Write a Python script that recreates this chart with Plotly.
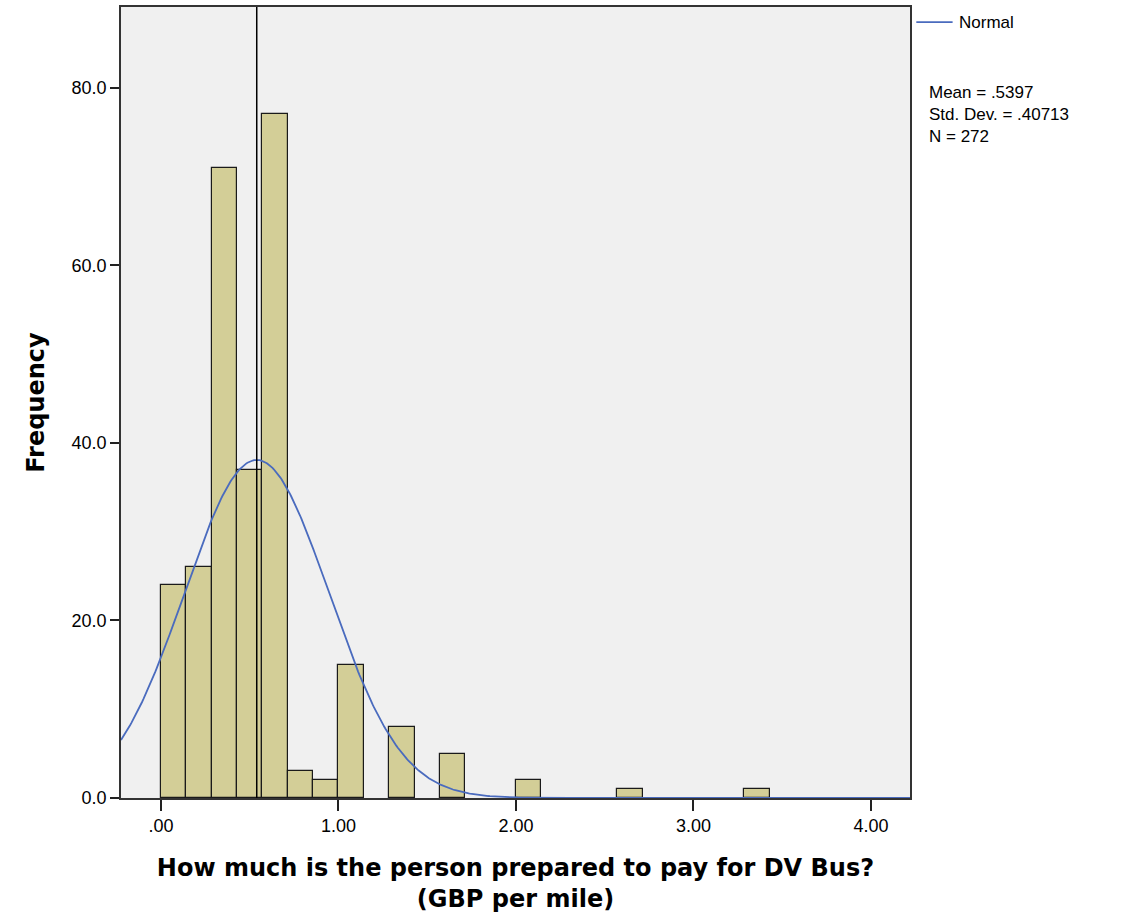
import numpy as np
import plotly.graph_objects as go

# Histogram of willingness to pay (GBP per mile), bins of width 1/7
bin_width = 1 / 7
bin_counts = [24, 26, 71, 37, 77, 3, 2, 15, 0, 8, 0, 5, 0, 0, 2, 0, 0, 0, 1, 0, 0, 0, 0, 1]
mean_value = 0.5397
std_dev = 0.40713
n_total = 272

x_ticks = [0, 1, 2, 3, 4]
x_tick_labels = [".00", "1.00", "2.00", "3.00", "4.00"]
y_ticks = [0, 20, 40, 60, 80]
y_tick_labels = ["0.0", "20.0", "40.0", "60.0", "80.0"]

x_range = [-0.225, 4.22]
y_range = [0, 89.1]

centers = [(i + 0.5) * bin_width for i in range(len(bin_counts))]
visible = [(c, v) for c, v in zip(centers, bin_counts) if v > 0]

font_family = "Liberation Sans, Arial, sans-serif"
title_family = "DejaVu Sans, Verdana, sans-serif"

fig = go.Figure()
fig.add_trace(go.Bar(
    x=[c for c, _ in visible],
    y=[v for _, v in visible],
    width=bin_width,
    marker=dict(color="#D3CE97", line=dict(color="#1a1a1a", width=1.2)),
    showlegend=False,
    hoverinfo="skip",
))

# Fitted normal curve scaled to counts
xs = np.linspace(x_range[0], x_range[1], 600)
ys = n_total * bin_width * np.exp(-0.5 * ((xs - mean_value) / std_dev) ** 2) / (std_dev * np.sqrt(2 * np.pi))
fig.add_trace(go.Scatter(
    x=xs, y=ys, mode="lines",
    line=dict(color="#4A6BBE", width=1.8),
    name="Normal", showlegend=False,
))

# Mean reference line
fig.add_shape(type="line", xref="x", yref="paper",
              x0=mean_value, x1=mean_value, y0=0, y1=1,
              line=dict(color="#000000", width=1.5))

# Legend-like annotations to the right of the plot
fig.add_shape(type="line", xref="paper", yref="paper",
              x0=1.008, x1=1.054, y0=0.981, y1=0.981,
              line=dict(color="#4A6BBE", width=1.8))
fig.add_annotation(xref="paper", yref="paper", x=1.06, y=0.981,
                   text="Normal", showarrow=False, xanchor="left", yanchor="middle",
                   font=dict(family=font_family, size=17, color="#000"))
fig.add_annotation(xref="paper", yref="paper", x=1.021, y=0.907,
                   text=f"Mean = .5397<br>Std. Dev. = .40713<br>N = {n_total}",
                   showarrow=False, xanchor="left", yanchor="top", align="left",
                   font=dict(family=font_family, size=17, color="#000"))

fig.update_layout(
    width=1129, height=913,
    margin=dict(l=121, r=219, t=5, b=115),
    paper_bgcolor="white",
    plot_bgcolor="#F0F0F0",
    bargap=0,
    font=dict(family=font_family, size=16, color="#000"),
    xaxis=dict(
        range=x_range, tickvals=x_ticks, ticktext=x_tick_labels,
        ticks="outside", ticklen=11, tickwidth=1.5, tickcolor="#222",
        showgrid=False, zeroline=False,
        showline=True, linecolor="#333", linewidth=1.5, mirror=True,
        tickfont=dict(size=18),
        title=dict(text="<b>How much is the person prepared to pay for DV Bus?<br>(GBP per mile)</b>",
                   font=dict(family=title_family, size=24), standoff=24),
    ),
    yaxis=dict(
        range=y_range, tickvals=y_ticks, ticktext=y_tick_labels,
        ticks="outside", ticklen=9, tickwidth=1.5, tickcolor="#222",
        showgrid=False, zeroline=False,
        showline=True, linecolor="#333", linewidth=1.5, mirror=True,
        tickfont=dict(size=18),
        title=dict(text="<b>Frequency</b>", font=dict(family=title_family, size=24), standoff=20),
    ),
)

fig.write_html("out.html")
